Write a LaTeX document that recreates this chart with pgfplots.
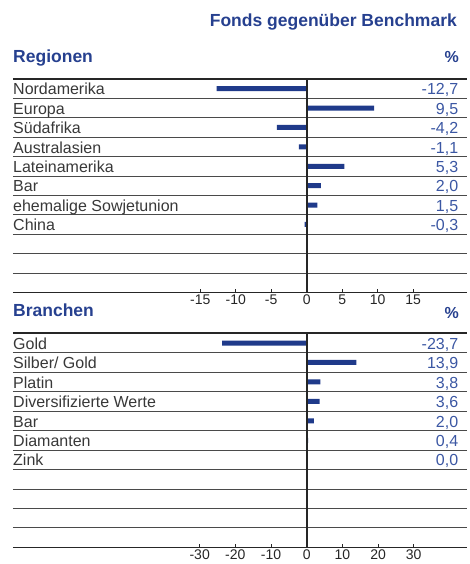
\documentclass[border=0pt]{standalone}
\usepackage{pgfplots}
\pgfplotsset{compat=1.18}
\usepackage{fontspec}
\setmainfont{Liberation Sans}
\definecolor{barblue}{HTML}{1F3A8A}
\definecolor{valblue}{HTML}{3B57A3}
\definecolor{titleblue}{HTML}{26408F}
\definecolor{txtgray}{HTML}{383838}
\definecolor{gridgray}{HTML}{4A4A4A}
\newcommand{\lab}[4]{% y, name, value
  \node[anchor=base west,inner sep=0pt,text=txtgray,font=\fontsize{16}{18}\selectfont] at (rel axis cs:0,#1) {#2};
  \node[anchor=base east,inner sep=0pt,text=valblue,font=\fontsize{16}{18}\selectfont] at (rel axis cs:0.981,#1) {#3};}
\pgfplotsset{
  rowpanel/.style={
    scale only axis,
    width=454pt, height=#1,
    anchor=south west,
    ymin=0, ymax=11,
    separate axis lines,
    axis x line*=bottom,
    axis y line*=left,
    y axis line style={draw=none},
    x axis line style={line width=1.4pt, draw=black!85},
    ytick={1,...,10},
    yticklabels={},
    major y tick style={draw=none},
    ymajorgrids,
    major grid style={line width=0.8pt, draw=gridgray},
    tick align=inside,
    major tick length=3.5pt,
    major x tick style={line width=0.9pt, draw=black!85},
    xticklabel style={font=\fontsize{14}{16}\selectfont, text=black!85, inner sep=1pt, yshift=-1pt},
    clip=false,
  },
}
\begin{document}
\begin{tikzpicture}
\path[use as bounding box] (0,0) rectangle (470pt,564pt);
\node[anchor=base east,inner sep=0pt,text=titleblue,font=\bfseries\fontsize{17.5}{20}\selectfont] at (457pt,537.3pt) {Fonds gegenüber Benchmark};
\node[anchor=base west,inner sep=0pt,text=titleblue,font=\bfseries\fontsize{17.5}{20}\selectfont] at (13pt,501.7pt) {Regionen};
\node[anchor=base east,inner sep=0pt,text=titleblue,font=\bfseries\fontsize{16}{20}\selectfont] at (459pt,501.7pt) {\%};
\node[anchor=base west,inner sep=0pt,text=titleblue,font=\bfseries\fontsize{17.5}{20}\selectfont] at (13pt,247.3pt) {Branchen};
\node[anchor=base east,inner sep=0pt,text=titleblue,font=\bfseries\fontsize{16}{20}\selectfont] at (459pt,245pt) {\%};

% Regionen
\begin{axis}[rowpanel=213.3pt, at={(13pt,271.7pt)},
  xmin=-41.37, xmax=22.58,
  xtick={-15,-10,-5,0,5,10,15},
  xticklabels={-15,-10,-5,0,5,10,15}]
\addplot[xbar, bar width=5pt, bar shift=0pt, fill=barblue, draw=none] coordinates {
  (-12.7,10.5) (9.5,9.5) (-4.2,8.5) (-1.1,7.5) (5.3,6.5) (2.0,5.5) (1.5,4.5) (-0.3,3.5)};
\draw[line width=2pt, draw=black!85] (rel axis cs:0,1) -- (rel axis cs:1,1);
\draw[line width=2pt, draw=black!85] (axis cs:0,0) -- (axis cs:0,11);
\lab{0.9256}{Nordamerika}{-12,7}{}
\lab{0.8347}{Europa}{9,5}{}
\lab{0.7438}{Südafrika}{-4,2}{}
\lab{0.6529}{Australasien}{-1,1}{}
\lab{0.5620}{Lateinamerika}{5,3}{}
\lab{0.4711}{Bar}{2,0}{}
\lab{0.3802}{ehemalige Sowjetunion}{1,5}{}
\lab{0.2893}{China}{-0,3}{}
\end{axis}

% Branchen
\begin{axis}[rowpanel=214pt, at={(13pt,16.7pt)},
  xmin=-82.34, xmax=44.94,
  xtick={-30,-20,-10,0,10,20,30},
  xticklabels={-30,-20,-10,0,10,20,30}]
\addplot[xbar, bar width=5pt, bar shift=0pt, fill=barblue, draw=none] coordinates {
  (-23.7,10.5) (13.9,9.5) (3.8,8.5) (3.6,7.5) (2.0,6.5) (0.4,5.5) (0.0,4.5)};
\draw[line width=2pt, draw=black!85] (rel axis cs:0,1) -- (rel axis cs:1,1);
\draw[line width=2pt, draw=black!85] (axis cs:0,0) -- (axis cs:0,11);
\lab{0.9256}{Gold}{-23,7}{}
\lab{0.8347}{Silber/ Gold}{13,9}{}
\lab{0.7438}{Platin}{3,8}{}
\lab{0.6529}{Diversifizierte Werte}{3,6}{}
\lab{0.5620}{Bar}{2,0}{}
\lab{0.4711}{Diamanten}{0,4}{}
\lab{0.3802}{Zink}{0,0}{}
\end{axis}
\end{tikzpicture}
\end{document}
